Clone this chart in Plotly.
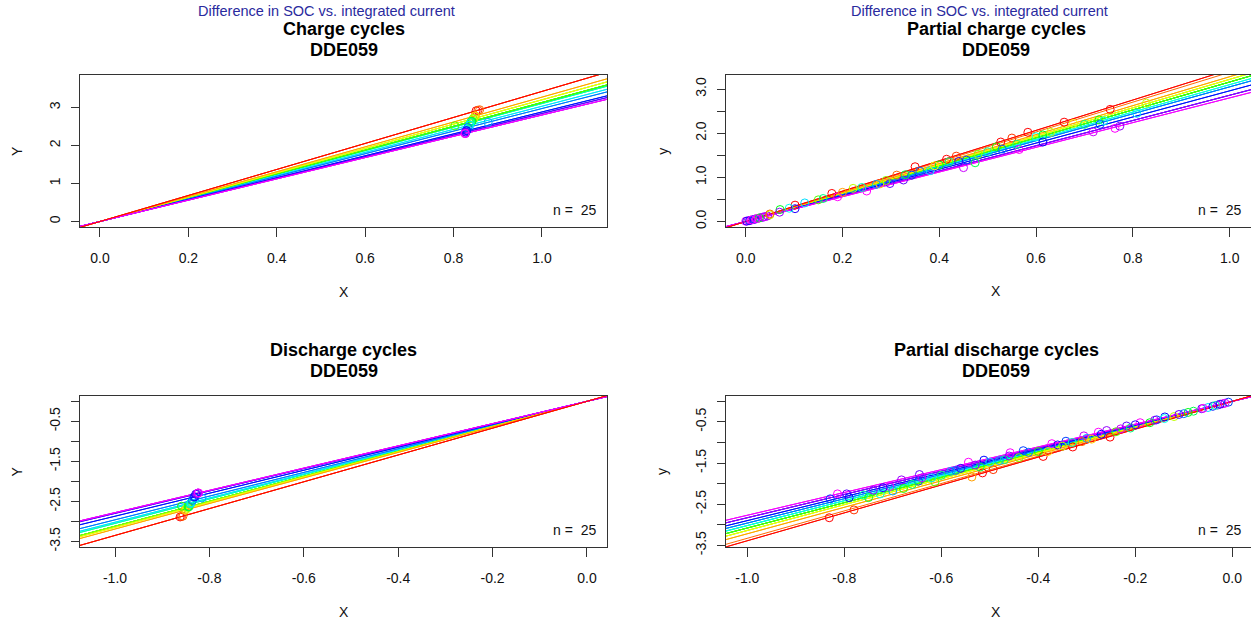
import colorsys
import plotly.graph_objects as go

# ---------------- data ----------------
N_CYCLES = 25

CH_SLOPE = [3.42, 3.42, 3.42, 3.27, 3.27, 3.20, 3.20, 3.20, 3.13, 3.13, 3.13, 3.13, 3.10,
            3.10, 3.03, 3.03, 2.97, 2.97, 2.88, 2.88, 2.84, 2.84, 2.80, 2.80, 2.80]
DC_SLOPE = [3.35, 3.35, 3.35, 3.19, 3.19, 3.15, 3.15, 3.12, 3.12, 3.12, 3.12, 3.12, 3.05,
            3.05, 3.02, 3.02, 2.96, 2.96, 2.87, 2.87, 2.80, 2.80, 2.78, 2.78, 2.78]
PC_SLOPE = [3.44, 3.44, 3.38, 3.28, 3.28, 3.22, 3.22, 3.22, 3.16, 3.16, 3.16, 3.16, 3.16,
            3.10, 3.10, 3.05, 3.05, 3.05, 2.96, 2.96, 2.86, 2.86, 2.86, 2.80, 2.80]
PD_SLOPE = [3.39, 3.39, 3.33, 3.22, 3.22, 3.14, 3.14, 3.14, 3.08, 3.08, 3.08, 3.08, 3.02,
            3.02, 3.02, 2.96, 2.96, 2.96, 2.90, 2.90, 2.83, 2.83, 2.83, 2.77, 2.77]

CH_X = [0.851, 0.855, 0.859, 0.849, 0.848, 0.846, 0.845, 0.844, 0.803, 0.842, 0.841, 0.840, 0.839,
        0.838, 0.837, 0.836, 0.878, 0.832, 0.830, 0.829, 0.828, 0.827, 0.827, 0.826, 0.826]
CH_Y = [2.910, 2.924, 2.938, 2.776, 2.773, 2.707, 2.704, 2.701, 2.513, 2.635, 2.632, 2.629, 2.601,
        2.598, 2.536, 2.533, 2.608, 2.471, 2.390, 2.388, 2.352, 2.349, 2.316, 2.313, 2.313]

DC_X = [-0.862, -0.859, -0.856, -0.852, -0.850, -0.848, -0.847, -0.846, -0.845, -0.859, -0.844, -0.843, -0.841,
        -0.840, -0.839, -0.838, -0.816, -0.836, -0.833, -0.831, -0.829, -0.827, -0.825, -0.824, -0.823]
DC_Y = [-2.888, -2.878, -2.868, -2.718, -2.712, -2.671, -2.668, -2.640, -2.636, -2.620, -2.633, -2.630, -2.565,
        -2.562, -2.534, -2.531, -2.415, -2.475, -2.391, -2.385, -2.321, -2.316, -2.294, -2.291, -2.288]

PC_X = [0.000, 0.005, 0.010, 0.015, 0.020, 0.025, 0.030, 0.035, 0.040, 0.045, 0.008, 0.018, 0.028,
        0.050, 0.002, 0.012, 0.022, 0.038, 0.071, 0.102, 0.102, 0.122, 0.178, 0.190, 0.222, 0.250,
        0.277, 0.298, 0.312, 0.326, 0.343, 0.350, 0.381, 0.400, 0.415, 0.435, 0.450, 0.456, 0.474,
        0.518, 0.527, 0.550, 0.565, 0.583, 0.600, 0.614, 0.614, 0.658, 0.677, 0.718, 0.730, 0.732,
        0.753, 0.763, 0.773, 0.808, 0.828, 0.150, 0.160, 0.200, 0.240, 0.270, 0.290, 0.330, 0.360,
        0.390, 0.420, 0.440, 0.480, 0.500, 0.530, 0.560, 0.630, 0.700, 0.740, 0.050, 0.070, 0.090]
PC_Y = [0.005, 0.015, 0.030, 0.040, 0.055, 0.070, 0.085, 0.095, 0.110, 0.125, 0.020, 0.050, 0.080,
        0.150, 0.008, 0.035, 0.062, 0.105, 0.270, 0.370, 0.290, 0.420, 0.635, 0.560, 0.750, 0.690,
        0.850, 0.860, 1.050, 0.940, 1.050, 1.240, 1.150, 1.280, 1.410, 1.480, 1.220, 1.390, 1.330,
        1.690, 1.800, 1.890, 1.630, 2.020, 1.920, 1.960, 1.800, 2.250, 2.220, 2.030, 2.300, 2.200,
        2.540, 2.110, 2.160, 2.450, 2.680, 0.490, 0.520, 0.660, 0.770, 0.840, 0.930, 1.060, 1.140,
        1.260, 1.350, 1.360, 1.520, 1.580, 1.640, 1.750, 2.020, 2.200, 2.280, 0.170, 0.210, 0.300]
PC_C = [24, 23, 24, 22, 24, 23, 24, 21, 24, 22, 19, 18, 10,
        6, 20, 24, 24, 23, 10, 0, 20, 15, 0, 24, 6, 24,
        4, 21, 2, 21, 18, 0, 15, 10, 0, 1, 23, 18, 11,
        9, 0, 1, 24, 0, 14, 10, 19, 0, 5, 23, 9, 18,
        0, 24, 22, 15, 6, 8, 12, 3, 13, 16, 7, 11, 17,
        5, 12, 20, 7, 13, 17, 12, 6, 12, 14, 2, 22, 14]

PD_X = [-0.831, -0.780, -0.814, -0.829, -0.795, -0.750, -0.726, -0.706, -0.682, -0.645, -0.647, -0.678,
        -0.613, -0.515, -0.493, -0.537, -0.544, -0.512, -0.458, -0.431, -0.390, -0.329, -0.372, -0.343,
        -0.306, -0.276, -0.259, -0.252, -0.218, -0.190, -0.139, -0.156, -0.091, -0.063, -0.050, -0.020,
        -0.008, -0.600, -0.580, -0.560, -0.520, -0.500, -0.470, -0.460, -0.440, -0.420, -0.400, -0.360,
        -0.350, -0.330, -0.300, -0.290, -0.270, -0.240, -0.230, -0.210, -0.200, -0.170, -0.160, -0.140,
        -0.120, -0.110, -0.100, -0.080, -0.060, -0.040, -0.030, -0.035, -0.015, -0.025, -0.700, -0.720,
        -0.660, -0.740, -0.760, -0.790, -0.640, -0.620, -0.570, -0.530, -0.480, -0.380, -0.310]
PD_Y = [-2.830, -2.640, -2.250, -2.370, -2.250, -2.340, -2.250, -2.070, -1.910, -1.780, -1.940, -2.120,
        -1.960, -1.740, -1.660, -1.840, -1.480, -1.430, -1.250, -1.200, -1.340, -1.110, -1.030, -0.970,
        -0.840, -0.750, -0.710, -0.870, -0.600, -0.520, -0.380, -0.450, -0.270, -0.180, -0.150, -0.060,
        -0.020, -1.800, -1.700, -1.630, -1.600, -1.480, -1.420, -1.330, -1.370, -1.240, -1.220, -1.060,
        -1.090, -1.000, -0.900, -0.920, -0.800, -0.740, -0.670, -0.650, -0.570, -0.520, -0.460, -0.420,
        -0.370, -0.320, -0.300, -0.240, -0.170, -0.120, -0.090, -0.100, -0.045, -0.070, -2.180, -2.100,
        -2.020, -2.160, -2.280, -2.340, -1.860, -1.860, -1.680, -1.550, -1.440, -1.220, -0.980]
PD_C = [0, 1, 24, 18, 21, 10, 14, 24, 22, 21, 18, 9,
        8, 0, 1, 3, 24, 19, 24, 18, 0, 0, 24, 18,
        23, 24, 22, 0, 21, 24, 19, 18, 10, 21, 15, 24,
        18, 12, 16, 20, 11, 15, 12, 22, 7, 17, 9, 20,
        6, 13, 16, 4, 19, 8, 23, 12, 20, 10, 22, 14,
        6, 21, 17, 11, 24, 19, 22, 13, 23, 20, 16, 20,
        12, 22, 13, 19, 23, 15, 17, 22, 16, 4, 2]

N_LABEL = "n =  25"
SUPTITLE = "Difference in SOC vs. integrated current"
UNIT = "DDE059"

# ---------------- style ----------------
W, H = 1251, 625
H_EFF = 616.5   # height the page actually gives the figure (measured)
FONT = "Liberation Sans, Arial, sans-serif"
AX = "#333333"
TXT = "#111111"

COLORS = []
for i in range(N_CYCLES):
    h = (i / (N_CYCLES - 1)) * (300.0 / 360.0)
    r, g, b = colorsys.hsv_to_rgb(h, 1.0, 1.0)
    COLORS.append("rgb(%d,%d,%d)" % (round(r * 255), round(g * 255), round(b * 255)))

# draw the middle hues first so that the pure red / magenta lines end up on top
DRAW_ORDER = sorted(range(N_CYCLES), key=lambda k: -abs(k - 12))[::-1]

def px_x(p):
    return p / W

def px_y(p):
    return 1 - p / H_EFF

panels = [
    dict(ax="", slopes=CH_SLOPE, x=CH_X, y=CH_Y, c=list(range(N_CYCLES)),
         xd=(80, 607), yd=(75, 227), xr=[-0.0452, 1.1471], yr=[-0.150, 3.850],
         xt=[0, 0.2, 0.4, 0.6, 0.8, 1.0], xtt=["0.0", "0.2", "0.4", "0.6", "0.8", "1.0"],
         yt=[0, 1, 2, 3], ytt=["0", "1", "2", "3"],
         title="Charge cycles", ylab="Y", right=False),
    dict(ax="2", slopes=PC_SLOPE, x=PC_X, y=PC_Y, c=PC_C,
         xd=(725.7, 1251), yd=(75, 226.7), xr=[-0.0413, 1.0440], yr=[-0.1224, 3.317],
         xt=[0, 0.2, 0.4, 0.6, 0.8, 1.0], xtt=["0.0", "0.2", "0.4", "0.6", "0.8", "1.0"],
         yt=[0, 0.5, 1.0, 1.5, 2.0, 2.5, 3.0], ytt=["0.0", "", "1.0", "", "2.0", "", "3.0"],
         title="Partial charge cycles", ylab="y", right=True),
    dict(ax="3", slopes=DC_SLOPE, x=DC_X, y=DC_Y, c=list(range(N_CYCLES)),
         xd=(80, 607), yd=(395.3, 546.7), xr=[-1.0742, 0.0424], yr=[-3.6425, 0.1425],
         xt=[-1.0, -0.8, -0.6, -0.4, -0.2, 0.0], xtt=["-1.0", "-0.8", "-0.6", "-0.4", "-0.2", "0.0"],
         yt=[0, -0.5, -1, -1.5, -2, -2.5, -3, -3.5], ytt=["", "-0.5", "", "-1.5", "", "-2.5", "", "-3.5"],
         title="Discharge cycles", ylab="Y", right=False),
    dict(ax="4", slopes=PD_SLOPE, x=PD_X, y=PD_Y, c=PD_C,
         xd=(725.7, 1251), yd=(395.3, 546.7), xr=[-1.0445, 0.0386], yr=[-3.545, 0.1387],
         xt=[-1.0, -0.8, -0.6, -0.4, -0.2, 0.0], xtt=["-1.0", "-0.8", "-0.6", "-0.4", "-0.2", "0.0"],
         yt=[0, -0.5, -1, -1.5, -2, -2.5, -3, -3.5], ytt=["", "-0.5", "", "-1.5", "", "-2.5", "", "-3.5"],
         title="Partial discharge cycles", ylab="y", right=True),
]

fig = go.Figure()
layout = dict(
    width=W, height=H, margin=dict(l=0, r=0, t=0, b=0, pad=0), autosize=False,
    paper_bgcolor="white", plot_bgcolor="white", showlegend=False,
    font=dict(family=FONT, size=14, color=TXT),
)
annotations = []

def add_text(text, x, y, size=14, color=TXT, anchor="center", angle=0):
    annotations.append(dict(text=text, x=px_x(x), y=px_y(y), xref="paper", yref="paper",
                            showarrow=False, xanchor=anchor, yanchor="middle", textangle=angle,
                            font=dict(family=FONT, size=size, color=color)))

for p in panels:
    a = p["ax"]
    xref, yref = "x" + a, "y" + a
    x0, x1 = p["xr"]
    for i in DRAW_ORDER:
        s = p["slopes"][i]
        fig.add_trace(go.Scatter(x=[x0, x1], y=[s * x0, s * x1], mode="lines",
                                 line=dict(color=COLORS[i], width=1),
                                 xaxis=xref, yaxis=yref, hoverinfo="skip"))
    fig.add_trace(go.Scatter(x=p["x"], y=p["y"], mode="markers",
                             marker=dict(symbol="circle-open", size=8,
                                         color=[COLORS[k] for k in p["c"]],
                                         line=dict(width=1)),
                             xaxis=xref, yaxis=yref, hoverinfo="skip"))

    layout["xaxis" + a] = dict(domain=[px_x(p["xd"][0]), min(1.0, px_x(p["xd"][1]))],
                      range=p["xr"], anchor=yref, showgrid=False, zeroline=False,
                      showline=True, linecolor=AX, linewidth=1, mirror=True,
                      ticks="outside", ticklen=9, tickcolor=AX, tickwidth=1,
                      tickvals=p["xt"], ticktext=p["xtt"], ticklabelstandoff=9,
                      tickfont=dict(family=FONT, size=14, color=TXT))
    layout["yaxis" + a] = dict(domain=[px_y(p["yd"][1]), px_y(p["yd"][0])],
                      range=p["yr"], anchor=xref, showgrid=False, zeroline=False,
                      showline=True, linecolor=AX, linewidth=1, mirror=not p["right"],
                      ticks="outside", ticklen=8, tickcolor=AX, tickwidth=1,
                      tickvals=p["yt"], ticktext=p["ytt"], tickangle=-90, ticklabelstandoff=5,
                      tickfont=dict(family=FONT, size=14, color=TXT))

    xc = (p["xd"][0] + p["xd"][1] + (16 if p["right"] else 0)) / 2.0
    top, bot = p["yd"]
    add_text("<b>%s</b>" % p["title"], xc, top - 46, size=18, color="#000000")
    add_text("<b>%s</b>" % UNIT, xc, top - 25, size=18, color="#000000")
    if top < 200:
        add_text(SUPTITLE, xc - 17, top - 64, size=14.5, color="#2a2a9e")
    add_text("X", xc, bot + 64.5)
    add_text(p["ylab"], p["xd"][0] - 63, (top + bot) / 2.0, angle=-90)
    add_text(N_LABEL, 598 if not p["right"] else 1243, bot - 17, anchor="right")

layout["annotations"] = annotations
fig.update_layout(**layout)
fig.write_html("out.html")
